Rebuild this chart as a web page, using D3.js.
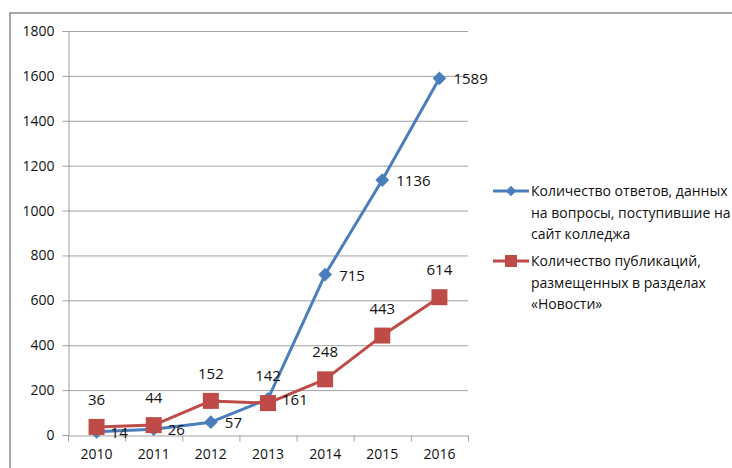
<!DOCTYPE html>
<html>
<head>
<meta charset="utf-8">
<script src="https://d3js.org/d3.v7.min.js"></script>
<style>
  body { margin: 0; background: #fff; }
  svg { display: block; font-family: "Open Sans", "Noto Sans", sans-serif; }
</style>
</head>
<body>
<svg id="chart" width="732" height="468"></svg>
<script>
const years = ['2010', '2011', '2012', '2013', '2014', '2015', '2016'];
const answers = [14, 26, 57, 161, 715, 1136, 1589];
const publications = [36, 44, 152, 142, 248, 443, 614];
const yTicks = [0, 200, 400, 600, 800, 1000, 1200, 1400, 1600, 1800];
const answersName = ['Количество ответов, данных', 'на вопросы, поступившие на', 'сайт колледжа'];
const publicationsName = ['Количество публикаций,', 'размещенных в разделах', '«Новости»'];

const blue = '#4a7ebb', red = '#be4b48';
const margin = { left: 68, top: 31, right: 264, bottom: 33 };
const W = 732, H = 468;

const svg = d3.select('#chart');

// outer frame (only top and left edges visible in the picture)
svg.append('path')
  .attr('d', `M10,${H} V13 H${W}`)
  .attr('fill', 'none').attr('stroke', '#8a8a8a').attr('stroke-width', 1.5);

const x = d3.scaleBand().domain(years).range([margin.left, W - margin.right]);
const y = d3.scaleLinear().domain([0, 1800]).range([H - margin.bottom, margin.top]);

// gridlines
svg.append('g').selectAll('line').data(yTicks.slice(1)).join('line')
  .attr('x1', margin.left).attr('x2', W - margin.right)
  .attr('y1', d => y(d) + 0.5).attr('y2', d => y(d) + 0.5)
  .attr('stroke', '#a0a0a0');

const yAxis = svg.append('g')
  .attr('transform', `translate(${margin.left + 0.5},0)`)
  .call(d3.axisLeft(y).tickValues(yTicks).tickFormat(d3.format('d')).tickSize(6).tickPadding(8));
yAxis.select('.domain').attr('stroke', '#a0a0a0');
yAxis.selectAll('.tick line').attr('stroke', '#a0a0a0');
yAxis.selectAll('text').attr('font-size', 14).attr('fill', '#111')
  .attr('font-family', '"Open Sans", sans-serif');

const xAxis = svg.append('g')
  .attr('transform', `translate(0,${y(0) + 0.5})`)
  .call(d3.axisBottom(x).tickSize(0).tickPadding(14));
xAxis.select('.domain').attr('stroke', '#a0a0a0');
xAxis.selectAll('text').attr('font-size', 14).attr('fill', '#111')
  .attr('font-family', '"Open Sans", sans-serif');
// tick marks at category boundaries
xAxis.append('g').selectAll('line').data(years.concat(['end'])).join('line')
  .attr('x1', (d, i) => margin.left + i * x.bandwidth() + 0.5)
  .attr('x2', (d, i) => margin.left + i * x.bandwidth() + 0.5)
  .attr('y1', 0).attr('y2', 6).attr('stroke', '#a0a0a0');

const cx = (d, i) => x(years[i]) + x.bandwidth() / 2;
const line = d3.line().x(cx).y(d => y(d));

// series 1 (blue diamonds)
svg.append('path').datum(answers).attr('d', line)
  .attr('fill', 'none').attr('stroke', blue).attr('stroke-width', 3)
  .attr('stroke-linejoin', 'round');
svg.append('g').selectAll('path').data(answers).join('path')
  .attr('d', d3.symbol(d3.symbolDiamond2, 120))
  .attr('transform', (d, i) => `translate(${cx(d, i)},${y(d)})`)
  .attr('fill', blue);

// series 2 (red squares)
svg.append('path').datum(publications).attr('d', line)
  .attr('fill', 'none').attr('stroke', red).attr('stroke-width', 3)
  .attr('stroke-linejoin', 'round');
svg.append('g').selectAll('rect').data(publications).join('rect')
  .attr('x', (d, i) => cx(d, i) - 8).attr('y', d => y(d) - 8)
  .attr('width', 16).attr('height', 16)
  .attr('fill', red);

// data labels
svg.append('g').selectAll('text').data(answers).join('text')
  .attr('x', (d, i) => cx(d, i) + 14).attr('y', d => y(d) + 6)
  .attr('font-size', 15).attr('fill', '#111')
  .text(d => d);
svg.append('g').selectAll('text').data(publications).join('text')
  .attr('x', (d, i) => cx(d, i)).attr('y', d => y(d) - 22)
  .attr('text-anchor', 'middle')
  .attr('font-size', 15).attr('fill', '#111')
  .text(d => d);

// legend
const legend = [
  { name: answersName, color: blue, mark: 'diamond', top: 191 },
  { name: publicationsName, color: red, mark: 'square', top: 261 }
];
legend.forEach(item => {
  const g = svg.append('g');
  g.append('line').attr('x1', 493).attr('x2', 529)
    .attr('y1', item.top).attr('y2', item.top)
    .attr('stroke', item.color).attr('stroke-width', 3);
  if (item.mark === 'diamond') {
    g.append('path').attr('d', d3.symbol(d3.symbolDiamond2, 70))
      .attr('transform', `translate(511,${item.top})`).attr('fill', item.color);
  } else {
    g.append('rect').attr('x', 505).attr('y', item.top - 6)
      .attr('width', 12).attr('height', 12).attr('fill', item.color);
  }
  g.selectAll('text').data(item.name).join('text')
    .attr('x', 531).attr('y', (d, i) => item.top + 5 + i * 21.5)
    .attr('font-size', 14).attr('fill', '#111')
    .text(d => d);
});
</script>
</body>
</html>
